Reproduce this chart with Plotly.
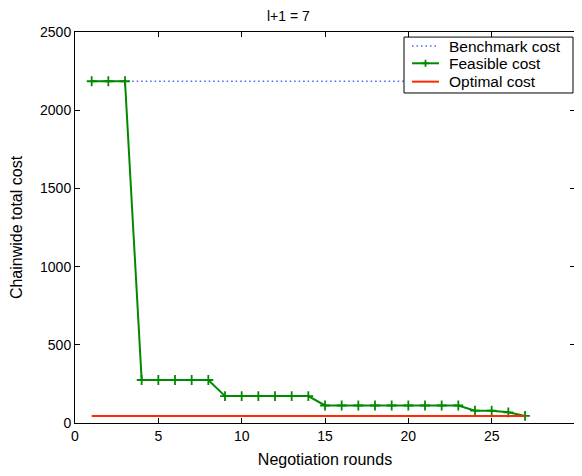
import plotly.graph_objects as go

rounds = list(range(1, 28))
feasible_cost = [2185, 2185, 2185, 275, 275, 275, 275, 275, 172, 172, 172, 172, 172, 172,
                 112, 112, 112, 112, 112, 112, 112, 112, 112, 79, 79, 68, 45]
benchmark_cost = [2185] * len(rounds)
optimal_cost = [45] * len(rounds)
series_names = ["Benchmark cost", "Feasible cost", "Optimal cost"]

BLUE, GREEN, RED = "#4a66ff", "#008a00", "#ff2a00"
FONT = "Liberation Sans, Arial, sans-serif"

fig = go.Figure()
fig.add_trace(go.Scatter(x=rounds, y=benchmark_cost, mode="lines", name=series_names[0],
                         line=dict(color=BLUE, width=1.5, dash="1.5px,3px")))
fig.add_trace(go.Scatter(x=rounds, y=feasible_cost, mode="lines+markers", name=series_names[1],
                         line=dict(color=GREEN, width=2),
                         marker=dict(symbol="cross-thin", size=7, line=dict(color=GREEN, width=1.8))))
fig.add_trace(go.Scatter(x=rounds, y=optimal_cost, mode="lines", name=series_names[2],
                         line=dict(color=RED, width=2)))

# manual legend (paper coordinates of the plot area)
bx0, bx1, by0, by1 = 0.658, 0.996, 0.844, 0.987
row_y = [0.964, 0.920, 0.873]
sx0, sx1, tx = 0.674, 0.728, 0.744
shapes = [dict(type="rect", xref="paper", yref="paper", x0=bx0, x1=bx1, y0=by0, y1=by1,
               fillcolor="white", line=dict(color="black", width=1), layer="above")]
styles = [dict(color=BLUE, width=1.5, dash="1.5px,3px"), dict(color=GREEN, width=2),
          dict(color=RED, width=2)]
annotations = []
for name, yy, st in zip(series_names, row_y, styles):
    shapes.append(dict(type="line", xref="paper", yref="paper", x0=sx0, x1=sx1, y0=yy, y1=yy,
                       line=st, layer="above"))
    annotations.append(dict(text=name, xref="paper", yref="paper", x=tx, y=yy, xanchor="left",
                            yanchor="middle", showarrow=False, font=dict(size=15.5, family=FONT)))
cx = (sx0 + sx1) / 2
shapes.append(dict(type="line", xref="paper", yref="paper", xsizemode="pixel", xanchor=cx,
                   x0=-3.5, x1=3.5, y0=row_y[1], y1=row_y[1], line=dict(color=GREEN, width=1.8),
                   layer="above"))
shapes.append(dict(type="line", xref="paper", yref="paper", ysizemode="pixel", yanchor=row_y[1],
                   x0=cx, x1=cx, y0=-3.5, y1=3.5, line=dict(color=GREEN, width=1.8),
                   layer="above"))
annotations.append(dict(text="l+1 = 7", xref="paper", yref="paper", x=0.426, y=1,
                        xanchor="center", yanchor="bottom", yshift=6, showarrow=False,
                        font=dict(size=14, family=FONT)))

axis_common = dict(showline=True, linecolor="black", linewidth=1, mirror="ticks",
                   ticks="inside", ticklen=5, tickcolor="black", showgrid=False,
                   zeroline=False, automargin=False, tickfont=dict(size=14, color="black"))
fig.update_layout(
    width=568, height=460,
    margin=dict(l=67, r=1, t=24, b=45),
    paper_bgcolor="white", plot_bgcolor="white",
    font=dict(family=FONT, size=14, color="black"),
    xaxis=dict(range=[0, 30], dtick=5, title=dict(text="Negotiation rounds", standoff=12,
               font=dict(size=16)), **axis_common),
    yaxis=dict(range=[0, 2500], dtick=500, title=dict(text="Chainwide total cost", standoff=18,
               font=dict(size=16)), **axis_common),
    shapes=shapes, annotations=annotations,
    showlegend=False,
)
fig.write_html("out.html")
